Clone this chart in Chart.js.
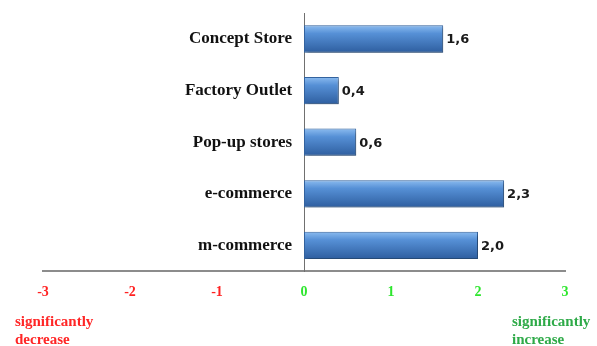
<!DOCTYPE html>
<html>
<head>
<meta charset="utf-8">
<script src="https://cdn.jsdelivr.net/npm/chart.js@4.4.0/dist/chart.umd.min.js"></script>
<style>
  html, body { margin: 0; padding: 0; background: #fff; }
</style>
</head>
<body>
<canvas id="chart" width="597" height="346"></canvas>
<script>
var categories = ['Concept Store', 'Factory Outlet', 'Pop-up stores', 'e-commerce', 'm-commerce'];
var scores = [1.6, 0.4, 0.6, 2.3, 2.0];
var scaleMin = -3;
var scaleMax = 3;
var endNotes = { low: ['significantly', 'decrease'], high: ['significantly', 'increase'] };

var serif = '"Liberation Serif", "DejaVu Serif", serif';
var barPct = 0.53;

// vertical blue gradient per bar, lighter on top
function barFill(ctx) {
	var chart = ctx.chart;
	var ys = chart.scales.y;
	if (!chart.chartArea || !ys || ctx.dataIndex === undefined) return '#4a80c4';
	var cy = ys.getPixelForValue(ctx.dataIndex);
	var h = (chart.chartArea.bottom - chart.chartArea.top) / categories.length * barPct;
	var g = chart.ctx.createLinearGradient(0, cy - h / 2, 0, cy + h / 2);
	g.addColorStop(0, '#8cbcf0');
	g.addColorStop(0.3, '#5690d6');
	g.addColorStop(1, '#2e5e9f');
	return g;
}

// soft drop shadow under the bars
var barShadow = {
	id: 'barShadow',
	beforeDatasetDraw: function(chart) {
		var c = chart.ctx;
		c.save();
		c.shadowColor = 'rgba(0,0,0,0.35)';
		c.shadowBlur = 3;
		c.shadowOffsetX = 2;
		c.shadowOffsetY = 2;
	},
	afterDatasetDraw: function(chart) {
		chart.ctx.restore();
	}
};

// value next to each bar, decimal comma
var valueLabels = {
	id: 'valueLabels',
	afterDatasetsDraw: function(chart) {
		var c = chart.ctx;
		var meta = chart.getDatasetMeta(0);
		c.save();
		c.font = 'bold 13px "DejaVu Sans", sans-serif';
		c.fillStyle = '#1a1a1a';
		c.textBaseline = 'middle';
		c.textAlign = 'left';
		meta.data.forEach(function(bar, i) {
			var txt = scores[i].toFixed(1).replace('.', ',');
			c.fillText(txt, bar.x + 3, bar.y + 1);
		});
		c.restore();
	}
};

// captions under the ends of the scale
var endCaptions = {
	id: 'endCaptions',
	afterDraw: function(chart) {
		var c = chart.ctx;
		var x = chart.scales.x;
		var y0 = chart.chartArea.bottom + 51;
		c.save();
		c.font = 'bold 15px ' + serif;
		c.textBaseline = 'middle';
		c.textAlign = 'left';
		c.fillStyle = '#ff2626';
		endNotes.low.forEach(function(t, i) {
			c.fillText(t, x.getPixelForValue(scaleMin) - 28, y0 + i * 18);
		});
		c.fillStyle = '#2eaa48';
		endNotes.high.forEach(function(t, i) {
			c.fillText(t, x.getPixelForValue(scaleMax) - 53, y0 + i * 18);
		});
		c.restore();
	}
};

new Chart(document.getElementById('chart'), {
	type: 'bar',
	data: {
		labels: categories,
		datasets: [{
			data: scores,
			backgroundColor: barFill,
			borderColor: '#33639f',
			borderWidth: 1,
			borderSkipped: false,
			barPercentage: barPct,
			categoryPercentage: 1
		}]
	},
	options: {
		indexAxis: 'y',
		responsive: false,
		animation: false,
		layout: { padding: { left: 43, right: 32, top: 3, bottom: 32 } },
		plugins: { legend: { display: false }, tooltip: { enabled: false } },
		scales: {
			x: {
				min: scaleMin,
				max: scaleMax,
				grid: { display: false, drawTicks: false },
				border: { color: '#8c8c8c', width: 2 },
				ticks: {
					stepSize: 1,
					padding: 13,
					font: { family: serif, size: 14, weight: 'bold' },
					color: function(ctx) { return ctx.tick.value < 0 ? '#ff2222' : '#2ee62e'; }
				}
			},
			y: {
				position: { x: 0 },
				grid: { display: false, drawTicks: false },
				border: { color: '#707070', width: 1 },
				ticks: {
					// axis placed at x = 0 ignores ticks.padding, so pad with spaces
					callback: function(v) { return this.getLabelForValue(v) + '\u2002\u2009'; },
					font: { family: serif, size: 17, weight: 'bold' },
					color: '#111'
				}
			}
		}
	},
	plugins: [barShadow, valueLabels, endCaptions]
});
</script>
</body>
</html>
